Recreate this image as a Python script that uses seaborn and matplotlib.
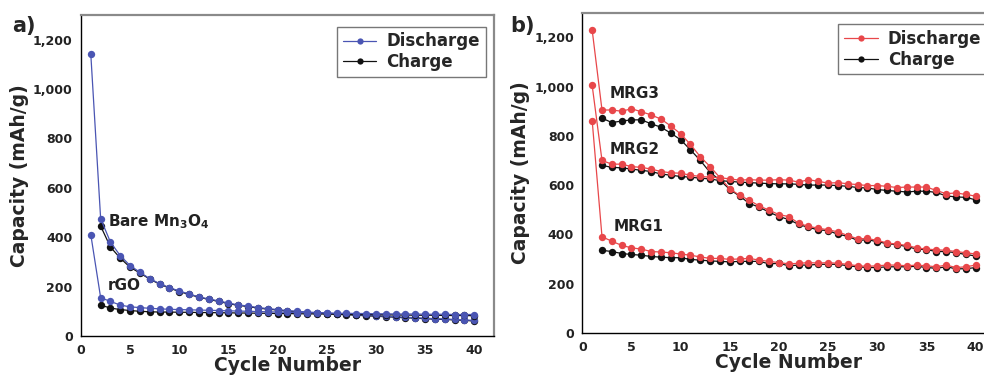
import numpy as np
import pandas as pd
import matplotlib
matplotlib.use("Agg")
import matplotlib.pyplot as plt
import seaborn as sns
from matplotlib.ticker import FuncFormatter, MultipleLocator

# ---------------- data ----------------
cycles_d = list(range(1, 41))
cycles_c = list(range(2, 41))

bare_dis = [1140, 475, 380, 325, 285, 258, 232, 212, 196, 182, 170, 158, 150, 142, 133, 126, 121, 115, 111, 107,
            103, 100, 97, 95, 93, 90, 88, 86, 84, 82, 80, 78, 76, 74, 72, 70, 69, 67, 65, 63]
bare_chg = [445, 360, 315, 278, 255, 230, 210, 194, 180, 168, 157, 148, 140, 131, 124, 119, 113, 109, 105,
            101, 98, 95, 93, 91, 88, 86, 84, 82, 80, 78, 76, 74, 72, 70, 68, 67, 65, 63, 61]
rgo_dis = [410, 155, 140, 125, 118, 115, 112, 110, 108, 107, 106, 105, 104, 103, 102, 101, 100, 99, 98, 97,
           96, 95, 95, 94, 93, 92, 92, 91, 91, 90, 90, 89, 89, 89, 88, 88, 88, 87, 87, 87]
rgo_chg = [125, 113, 107, 103, 100, 98, 97, 97, 96, 96, 95, 95, 94, 94, 93, 93, 92, 92, 91,
           91, 90, 90, 89, 89, 88, 88, 87, 87, 86, 86, 85, 85, 84, 84, 84, 83, 83, 83, 82]

mrg3_dis = [1230, 905, 905, 900, 910, 898, 885, 868, 840, 808, 765, 715, 675, 630, 585, 558, 538, 515, 498, 480,
            472, 445, 432, 425, 418, 410, 395, 382, 383, 375, 365, 360, 355, 345, 340, 337, 335, 330, 325, 320]
mrg3_chg = [872, 854, 860, 865, 865, 849, 835, 811, 784, 743, 700, 651, 620, 582, 555, 525, 510, 490, 472,
            460, 440, 428, 418, 415, 400, 392, 375, 378, 370, 362, 358, 350, 340, 338, 330, 330, 325, 318, 312]
mrg2_dis = [1005, 700, 685, 685, 675, 672, 665, 655, 650, 648, 640, 635, 632, 630, 625, 620, 622, 620, 620, 622,
            620, 612, 622, 615, 608, 610, 605, 602, 598, 598, 595, 590, 592, 592, 592, 578, 565, 568, 562, 555]
mrg2_chg = [680, 672, 670, 665, 660, 655, 645, 640, 635, 632, 628, 625, 618, 615, 612, 610, 608, 606, 605,
            605, 603, 600, 600, 600, 598, 595, 590, 588, 582, 578, 575, 572, 575, 575, 570, 556, 552, 550, 540]
mrg1_dis = [862, 390, 372, 355, 345, 340, 330, 328, 325, 320, 315, 308, 302, 302, 298, 300, 302, 295, 290, 285,
            280, 282, 285, 283, 285, 282, 278, 272, 270, 272, 275, 275, 272, 275, 272, 268, 275, 265, 268, 275]
mrg1_chg = [335, 330, 322, 318, 315, 310, 307, 305, 305, 298, 295, 292, 290, 288, 290, 290, 290, 280, 282,
            272, 275, 275, 278, 278, 278, 272, 268, 265, 265, 268, 268, 268, 270, 265, 262, 268, 260, 260, 265]

x_ticks = [0, 5, 10, 15, 20, 25, 30, 35, 40]
y_ticks = [0, 200, 400, 600, 800, 1000, 1200]

BLUE = "#4a55b3"
RED = "#e8474a"
BLACK = "#111111"

sns.set_style("white")
plt.rcParams['font.family'] = ['DejaVu Sans']
plt.rcParams['font.weight'] = 'bold'

fig = plt.figure(figsize=(9.84, 3.79), dpi=100)
axA = fig.add_axes([0.0823, 0.1135, 0.4197, 0.847])
axB = fig.add_axes([0.5918, 0.122, 0.4197, 0.8443])


def draw(ax, pairs, dcolor):
    for i, (dis, chg) in enumerate(pairs):
        sns.lineplot(x=cycles_c, y=chg, ax=ax, color=BLACK, marker='o', markersize=5.3,
                     markeredgewidth=0, linewidth=0.9, label=('Charge' if i == 0 else None), legend=False)
        sns.lineplot(x=cycles_d, y=dis, ax=ax, color=dcolor, marker='o', markersize=5.3,
                     markeredgewidth=0, linewidth=0.9, label=('Discharge' if i == 0 else None), legend=False)


def style(ax):
    ax.set_xlim(0, 42)
    ax.set_ylim(0, 1300)
    ax.set_xticks(x_ticks)
    ax.set_yticks(y_ticks)
    ax.yaxis.set_major_formatter(FuncFormatter(lambda v, p: f"{int(v):,}"))
    ax.tick_params(direction='out', length=4, width=1, labelsize=9, colors='black', pad=2)
    for lab in ax.get_xticklabels() + ax.get_yticklabels():
        lab.set_fontweight('bold')
        lab.set_color('#222222')
    for s in ['left', 'bottom']:
        ax.spines[s].set_color('black')
        ax.spines[s].set_linewidth(1.0)
    for s in ['top', 'right']:
        ax.spines[s].set_color('#8a8a8a')
        ax.spines[s].set_linewidth(1.6)
    ax.set_xlabel('Cycle Number', fontsize=13.5, fontweight='bold', labelpad=-1)
    ax.set_ylabel('Capacity (mAh/g)', fontsize=13.5, fontweight='bold', labelpad=3)
    h, l = ax.get_legend_handles_labels()
    order = [l.index('Discharge'), l.index('Charge')]
    leg = ax.legend([h[i] for i in order], [l[i] for i in order], loc='upper right',
                    bbox_to_anchor=(1.0, 0.99), fontsize=12, frameon=True, fancybox=False,
                    edgecolor='#555555', handlelength=2.0, handletextpad=0.6, borderpad=0.35,
                    labelspacing=0.15, prop={'weight': 'bold', 'size': 12})
    leg.get_frame().set_linewidth(1.0)
    for lh in leg.legend_handles:
        lh.set_markersize(4.5)


draw(axA, [(bare_dis, bare_chg), (rgo_dis, rgo_chg)], BLUE)
draw(axB, [(mrg3_dis, mrg3_chg), (mrg2_dis, mrg2_chg), (mrg1_dis, mrg1_chg)], RED)
style(axA)
style(axB)

axA.text(2.75, 464, 'Bare Mn$_\\mathbf{3}$O$_\\mathbf{4}$', fontsize=11, fontweight='bold', va='center', ha='left', color='#222222')
axA.text(2.75, 205, 'rGO', fontsize=11, fontweight='bold', va='center', ha='left', color='#222222')
axB.text(2.8, 972, 'MRG3', fontsize=11, fontweight='bold', va='center', ha='left', color='#222222')
axB.text(2.8, 744, 'MRG2', fontsize=11, fontweight='bold', va='center', ha='left', color='#222222')
axB.text(3.2, 432, 'MRG1', fontsize=11, fontweight='bold', va='center', ha='left', color='#222222')

fig.text(12 / 984, 1 - 26 / 379, 'a)', fontsize=15, fontweight='bold', va='center', ha='left')
fig.text(510 / 984, 1 - 26 / 379, 'b)', fontsize=15, fontweight='bold', va='center', ha='left')

fig.savefig('out.png', dpi=100)
